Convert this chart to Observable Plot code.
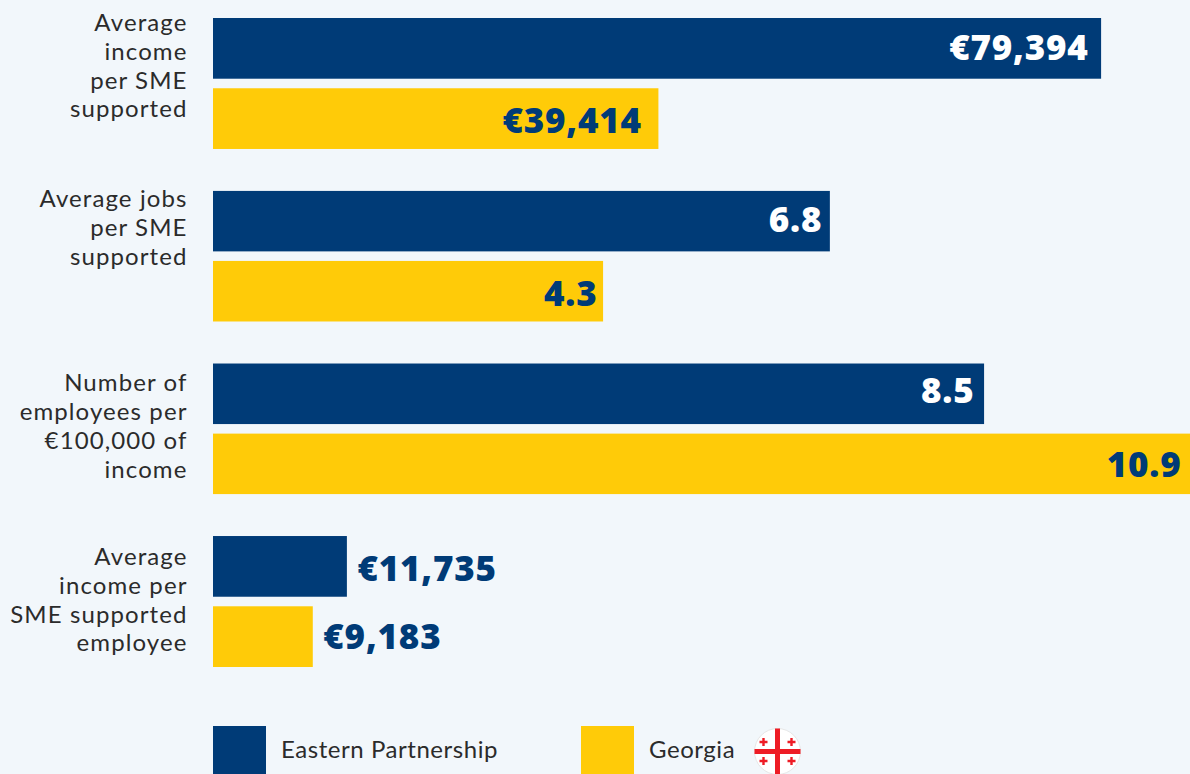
<!DOCTYPE html>
<html>
<head>
<meta charset="utf-8">
<script src="https://cdn.jsdelivr.net/npm/d3@7"></script>
<script src="https://cdn.jsdelivr.net/npm/@observablehq/plot@0.6"></script>
<style>
html,body{margin:0;padding:0;background:#f2f7fb;overflow:hidden;width:1190px;height:774px}
svg{display:block}
#legend{position:relative;height:74px;font:24px Lato,sans-serif;letter-spacing:.55px;color:#2b2b2b}
.sw{position:absolute;top:26px;width:53px;height:53px}
.lb{position:absolute;top:34px;line-height:29px}
g[font-size="24"]{letter-spacing:1.1px}
g[font-size="35"]{letter-spacing:.8px}
</style>
</head>
<body>
<div id="chart"></div>
<div id="legend">
  <div class="sw" style="left:213px;background:#003b77"></div>
  <div class="lb" style="left:281px">Eastern Partnership</div>
  <div class="sw" style="left:581px;background:#ffcb08"></div>
  <div class="lb" style="left:649px">Georgia</div>
  <svg style="position:absolute;left:753.5px;top:27.5px" width="47" height="47" viewBox="-23.5 -23.5 47 47">
    <circle r="23" fill="#ffffff" stroke="#e6e6e6"/>
    <path d="M-23-2.5H23V2.5H-23ZM-2.5-23H2.5V23H-2.5Z" fill="#ee1c25"/>
    <g fill="#ee1c25">
      <path id="c" d="M-15.2-13.5h2.4v2.8h2.8v2.4h-2.8v2.8h-2.4v-2.8h-2.8v-2.4h2.8z"/>
      <use href="#c" x="28"/><use href="#c" y="19"/><use href="#c" x="28" y="19"/>
    </g>
  </svg>
</div>
<script>
const metrics = [
  "Average\nincome\nper SME\nsupported",
  "Average jobs\nper SME\nsupported",
  "Number of\nemployees per\n€100,000 of\nincome",
  "Average\nincome per\nSME supported\nemployee"
];
const seriesNames = ["Eastern Partnership", "Georgia"];
// drawn bar lengths, on the chart's common (unlabelled) axis
const easternPartnership = [9.79, 6.8, 8.5, 1.476];
const georgia = [4.91, 4.3, 10.9, 1.10];
const easternLabels = ["€79,394", "6.8", "8.5", "€11,735"];
const georgiaLabels = ["€39,414", "4.3", "10.9", "€9,183"];

const NAVY = "#003b77", GOLD = "#ffcb08";
const XMAX = 10.77;
const rows = metrics.flatMap((m, i) => [
  {metric: m, series: seriesNames[0], v: easternPartnership[i], label: easternLabels[i], i},
  {metric: m, series: seriesNames[1], v: georgia[i], label: georgiaLabels[i], i}
]);
// label nudges, layout only
const labelDy = [-19, -30, -4, -3];
const valueDx = [-13, -17, -8, -6, -10, -9, 10, 10];
const valueDy = [0, 3, -1, 3, -2, 1, 3, 1];

const plot = Plot.plot({
  width: 1190, height: 700,
  marginLeft: 213, marginRight: 0, marginTop: 18, marginBottom: 33,
  x: {domain: [0, XMAX], axis: null},
  y: {domain: seriesNames, axis: null, paddingInner: 0.136, paddingOuter: 0, round: false},
  fy: {domain: metrics, axis: null, padding: 0.2415, round: false},
  color: {domain: seriesNames, range: [NAVY, GOLD]},
  style: {background: "transparent"},
  marks: [
    Plot.barX(rows, {x: "v", y: "series", fy: "metric", fill: "series", clip: true}),
    ...rows.map((r, k) => Plot.text([r], {
      x: d => Math.min(d.v, XMAX), y: "series", fy: "metric", text: "label",
      textAnchor: r.i === 3 ? "start" : "end",
      dx: valueDx[k], dy: valueDy[k],
      fill: r.i !== 3 && r.series === seriesNames[0] ? "#ffffff" : NAVY,
      fontFamily: "'Open Sans', sans-serif", fontWeight: 800, fontSize: 35, lineAnchor: "middle"
    })),
    ...metrics.map((m, i) => Plot.text([m], {
      fy: d => d, text: d => d, frameAnchor: "left", textAnchor: "end", dx: -26, dy: labelDy[i],
      lineHeight: 1.2, fontSize: 24, fontFamily: "Lato, sans-serif", fill: "#2b2b2b"
    }))
  ]
});
document.getElementById("chart").append(plot);
</script>
</body>
</html>
